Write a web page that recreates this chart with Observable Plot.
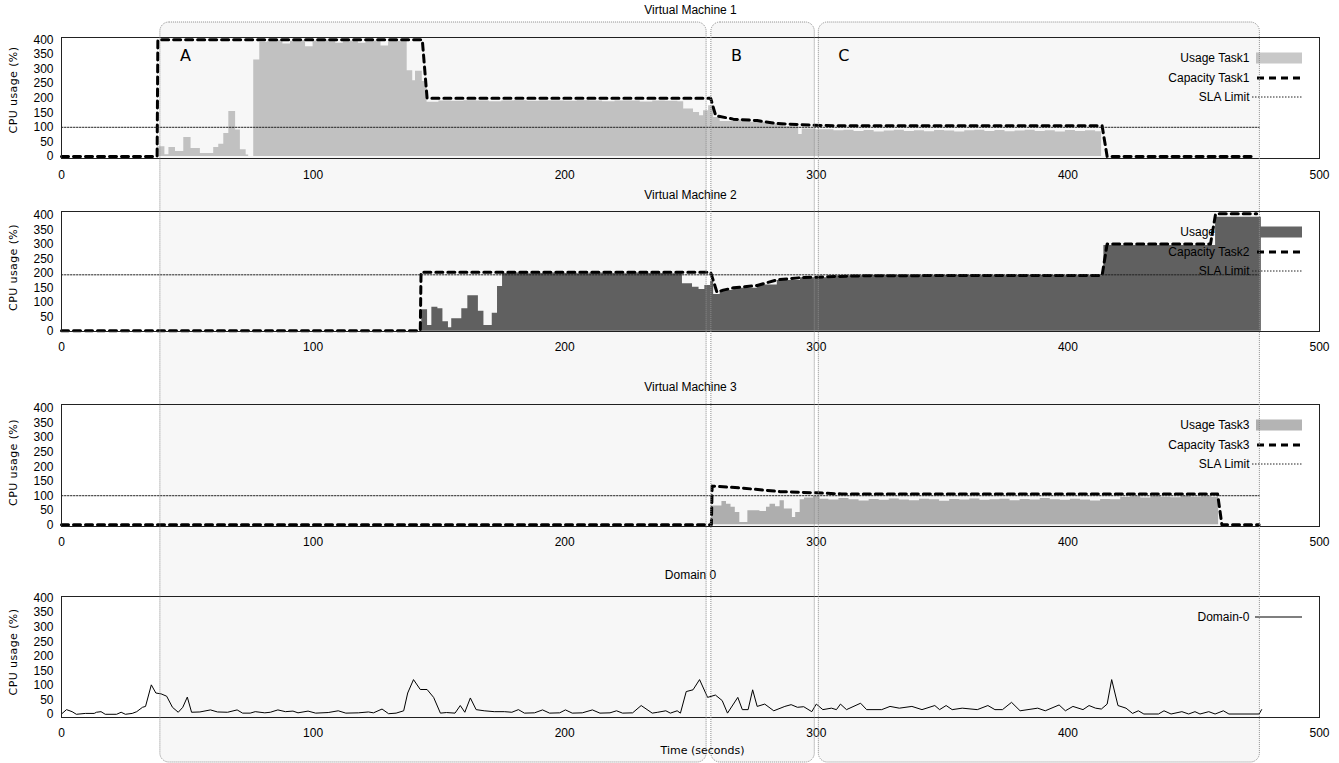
<!DOCTYPE html>
<html><head><meta charset="utf-8">
<script src="https://cdn.jsdelivr.net/npm/d3@7"></script>
<script src="https://cdn.jsdelivr.net/npm/@observablehq/plot@0.6"></script>
<style>
html,body{margin:0;padding:0;background:#fff;}
#chart{position:relative;width:1339px;height:763px;overflow:hidden;}
#chart svg{position:absolute;left:0;}
</style></head><body><div id="chart"></div>
<script>
// ---------- data ----------
const xTicks = [0, 100, 200, 300, 400, 500];
const yTicks = [0, 50, 100, 150, 200, 250, 300, 350, 400];
const panelTitles = ["Virtual Machine 1", "Virtual Machine 2", "Virtual Machine 3", "Domain 0"];
const usageLabels = ["Usage Task1", "Usage Task2", "Usage Task3"];
const capacityLabels = ["Capacity Task1", "Capacity Task2", "Capacity Task3"];
const slaLabel = "SLA Limit";
const domainLabel = "Domain-0";
const yTitle = "CPU usage (%)";
const xTitle = "Time (seconds)";

const regionLabels = ["A", "B", "C"];
const regionStart = [39.3, 258.3, 301];
const regionEnd = [256.4, 299.4, 476.3];

const slaValues = [100, 195, 100];
const runEnd = 476;

const usage1T = [38.2,41.1,42.7,45.3,48.6,51.5,55.2,60.5,62.5,64.5,66.5,69.2,71.1,73.4,74.4,76.4,78.8,82,85,88,91,94,97,100,103,106,109,112,115,118,121,124,127,130,133,137.4,139.6,140.7,143.4,145.3,150,155,160,165,170,175,180,185,190,195,200,205,210,215,220,225,230,235,240,245,247.3,251.2,253.6,255.2,257.2,259.2,261.8,267.2,273.8,280.5,287.1,293,294.4,300,307,311,315,319,323,327,331,335,339,343,347,351,355,359,363,367,371,375,379,383,387,391,395,399,403,407,411,413.4];
const usage1V = [33,6,31,17,65,27,10,31,42,79,154,91,23,5,0,331,392,395,398,386,395,398,376,396,399,395,388,398,396,388,398,396,379,398,395,294,260,292,257,186,190,189,191,190,188,190,191,189,190,190,189,191,190,188,190,190,187,190,189,188,163,151,140,157,174,134,120,125,117,111,102,75,94,92,88,90,86,89,84,87,90,86,88,85,89,87,84,88,90,86,89,85,87,90,86,88,84,89,86,88,85,0];

const usage2T = [142.6,143.2,145.5,147.2,149.6,151.6,153.8,155.1,159.1,161.5,165.7,167.9,171.2,173.3,175.3,180,185,190,195,200,205,210,215,220,225,230,235,240,246.8,250.8,253.4,255.7,258,259.2,261.8,267.2,276.5,284.5,293.7,307,320,335,350,365,380,395,414.3,458.7,476.9];
const usage2V = [31,74,20,83,78,33,12,43,78,123,69,20,62,155,200,201,199,200,201,200,199,201,200,199,201,200,200,199,164,152,144,158,173,127,141,149,160,175,185,192,193,192,193,192,193,192,296,394,0];

const usage3T = [258.5,262.5,264.3,266.1,267.8,269.6,272.8,277.6,280.2,281.6,283.8,285.6,287.3,290.5,291.8,293.6,295.3,298.9,301.5,305,309,313,317,321,325,329,333,337,341,345,349,353,357,361,365,369,373,377,381,385,389,393,397,401,405,409,413,417,421,425,429,433,437,441,445,449,453,457,459.9];
const usage3V = [65,80,71,60,42,8,48,46,60,71,62,83,54,25,42,86,92,97,88,85,90,86,82,87,84,89,85,83,88,86,81,87,85,89,84,86,88,83,87,85,90,86,84,88,85,82,87,86,94,96,92,97,95,93,98,95,96,94,0];

const cap1T = [0,38,38.3,143.4,145.3,258,260,267,276.5,284.4,293.7,307,413.6,415.6,474.6];
const cap1V = [0,0,400,400,200,200,140,128,123,113,109,105,105,0,0];
const cap2T = [0,142.6,142.9,258,260.5,263,267.2,276.5,284.5,293.7,307,320,413.6,415.6,456.7,458.7,475];
const cap2V = [2,2,204,204,135,142,150,158,178,185,189,192,193,302,302,406,406];
const cap3T = [0,258.3,258.6,269.6,285.6,299.8,310,459.5,461.2,476];
const cap3V = [0,0,133,127,114,110,106,106,0,0];

const dom0T = [0,2,4.2,5.9,9.5,13,13.9,15.7,17.4,21.9,23.7,25.4,28.1,29.9,32.2,33.4,35.7,37.5,39.6,41.8,44.1,46.4,48.2,50,51.7,55,59.2,62,66,69.8,72,75,77,80.8,83,86,89,92,94,98,101,106,110,113,118,122,124,127.4,130,133,136,137.6,139.9,142.6,145.3,147.9,150.6,153,156.4,158.5,160.3,162.5,164.8,168,172,176,179,181.6,184,188,191.2,194,198,200.3,203,207,211,214,218,220.6,223,227,230.4,234.8,237,240.2,242,244.7,246,248.3,251,253.6,256.8,259.9,262.6,264.7,268.8,270.6,272.9,274.7,276.5,279.5,283.1,287.5,290,292.5,295,298.2,300,302.6,306,308,309.6,312,317.6,320,326,329.3,333,338,342,347.1,349,351.6,354,358,364,368.2,371,374,377.6,381,388,391,396.5,399,402,406,408.4,411,413.3,415.6,417.4,419.9,423.1,425.7,428,430.2,436,438.2,441,445.3,448,450.5,452.5,456,458.5,461.8,464,470,476,477];
const dom0V = [2,17,10,1,4,4,8,10,1,1,8,1,4,10,25,28,102,74,71,63,25,8,25,60,8,9,16,9,8,16,5,5,10,6,8,16,10,12,6,12,5,7,13,5,6,9,6,19,3,5,13,74,120,86,86,59,5,7,5,31,8,57,17,13,10,10,8,17,5,6,16,5,6,16,5,6,16,5,6,13,5,6,31,5,8,13,5,13,5,79,85,120,59,67,48,5,59,17,17,85,28,36,13,28,34,25,27,10,36,17,22,17,36,17,39,17,17,28,22,28,17,31,17,31,17,22,17,31,17,17,42,13,22,13,33,13,28,17,31,22,19,36,120,31,22,4,13,2,2,13,2,10,2,10,2,10,2,13,2,2,2,17];

const usageColors = ["#c8c8c8", "#646464", "#b4b4b4"];

// ---------- layout ----------
const W = 1339, H = 763;
const mL = 61, mR = 20, mT = 34, mB = 46;
const FONT = "'Liberation Sans', Arial, sans-serif";
const rowDy = [21, 41, 60];
const zip = (T, V) => T.map((t, i) => ({t, v: V[i]}));

const panels = [
  {top: 37, h: 121, yDomain: [-7, 408], titleOff: 27, xPad: 12, yTitleDy: -8},
  {top: 211, h: 120, yDomain: [-1, 414], titleOff: 16, xPad: 11, yTitleDy: -4},
  {top: 404, h: 122, yDomain: [-6, 414], titleOff: 17, xPad: 11, yTitleDy: -3},
  {top: 596, h: 121, yDomain: [-10, 405], titleOff: 21, xPad: 11, yTitleDy: -5}
];
const usageT = [usage1T, usage2T, usage3T], usageV = [usage1V, usage2V, usage3V];
const capT = [cap1T, cap2T, cap3T], capV = [cap1V, cap2V, cap3V];

const chart = document.getElementById("chart");

function legendText(label, row) {
  return Plot.text([label], {text: d => d, frameAnchor: "top-right", textAnchor: "end", lineAnchor: "middle",
    dx: -70, dy: rowDy[row], fontSize: 12, fill: "#000"});
}

panels.forEach((p, i) => {
  const marks = [];
  if (i < 3) {
    const sla = [{t: 0, v: slaValues[i]}, {t: runEnd, v: slaValues[i]}];
    marks.push(legendText(usageLabels[i], 0));
    marks.push(Plot.areaY(zip(usageT[i], usageV[i]), {x: "t", y: "v", curve: "step-after", fill: usageColors[i]}));
    marks.push(legendText(capacityLabels[i], 1));
    marks.push(Plot.line(zip(capT[i], capV[i]), {x: "t", y: "v", stroke: "#000", strokeWidth: 3, strokeDasharray: "7,5"}));
    marks.push(legendText(slaLabel, 2));
    marks.push(Plot.line(sla, {x: "t", y: "v", stroke: "#222", strokeWidth: 1, strokeDasharray: "1.5,1.5"}));
  } else {
    marks.push(legendText(domainLabel, 0));
    marks.push(Plot.line(zip(dom0T, dom0V), {x: "t", y: "v", stroke: "#000", strokeWidth: 1}));
    marks.push(Plot.text([xTitle], {text: d => d, frameAnchor: "bottom", textAnchor: "middle", lineAnchor: "middle", dx: 12, dy: 33,
      fontFamily: "'DejaVu Sans', sans-serif", fontSize: 11}));
  }
  marks.push(Plot.frame({stroke: "#222", strokeWidth: 1}));
  marks.push(Plot.axisX({ticks: xTicks, tickSize: 0, tickPadding: p.xPad, label: null, fontSize: 12}));
  marks.push(Plot.axisY({ticks: yTicks, tickSize: 0, tickPadding: 8, label: null, fontSize: 12}));
  marks.push(Plot.text([panelTitles[i]], {text: d => d, frameAnchor: "top", textAnchor: "middle", lineAnchor: "middle", dy: -p.titleOff, fontSize: 12}));
  marks.push(Plot.text([yTitle], {text: d => d, frameAnchor: "left", textAnchor: "middle", rotate: -90, lineAnchor: "middle",
    dx: -48, dy: p.yTitleDy, fontFamily: "'DejaVu Sans', sans-serif", fontSize: 11}));

  const svg = Plot.plot({
    width: W, height: mT + p.h + mB,
    marginLeft: mL, marginRight: mR, marginTop: mT, marginBottom: mB,
    x: {domain: [0, 500]},
    y: {domain: p.yDomain},
    style: {background: "none", fontFamily: FONT, fontSize: "12px", color: "#000", overflow: "visible"},
    marks
  });
  svg.style.top = (p.top - mT) + "px";
  // y title letter spacing
  d3.select(svg).selectAll("text").filter(function() { return this.textContent === yTitle; })
    .style("letter-spacing", "0.4px");
  // legend swatches
  const g = d3.select(svg).append("g");
  const xr = W - mR;
  if (i < 3) {
    let y = mT + rowDy[0];
    g.append("rect").attr("x", xr - 63).attr("y", y - 5.5).attr("width", 46).attr("height", 11).attr("fill", usageColors[i]);
    y = mT + rowDy[1];
    g.append("line").attr("x1", xr - 62).attr("x2", xr - 17).attr("y1", y).attr("y2", y)
      .attr("stroke", "#000").attr("stroke-width", 3).attr("stroke-dasharray", "7,5");
    y = mT + rowDy[2];
    g.append("line").attr("x1", xr - 67).attr("x2", xr - 17).attr("y1", y).attr("y2", y)
      .attr("stroke", "#222").attr("stroke-width", 1).attr("stroke-dasharray", "1.5,1.5");
  } else {
    const y = mT + rowDy[0];
    g.append("line").attr("x1", xr - 64).attr("x2", xr - 17).attr("y1", y).attr("y2", y)
      .attr("stroke", "#555").attr("stroke-width", 1.5);
  }
  chart.appendChild(svg);
});

// ---------- region overlay ----------
const regions = regionLabels.map((label, i) => ({label, start: regionStart[i], end: regionEnd[i]}));
const overlay = Plot.plot({
  width: W, height: H,
  marginLeft: mL, marginRight: mR, marginTop: 22, marginBottom: 1,
  x: {domain: [0, 500], axis: null},
  y: {domain: [0, 1], axis: null},
  style: {background: "none", fontFamily: FONT, pointerEvents: "none"},
  marks: [
    Plot.rect(regions, {x1: "start", x2: "end", fill: "#000", fillOpacity: 0.03, stroke: "#8a8a8a",
      strokeWidth: 1, strokeDasharray: "1,1", rx: 9}),
    Plot.text(regions, {x: "start", text: "label", frameAnchor: "top", textAnchor: "middle", lineAnchor: "middle",
      dx: 25, dy: 33, fontSize: 16, fontFamily: "'DejaVu Sans', sans-serif", fill: "#000"})
  ]
});
overlay.style.top = "0px";
chart.appendChild(overlay);
</script></body></html>
